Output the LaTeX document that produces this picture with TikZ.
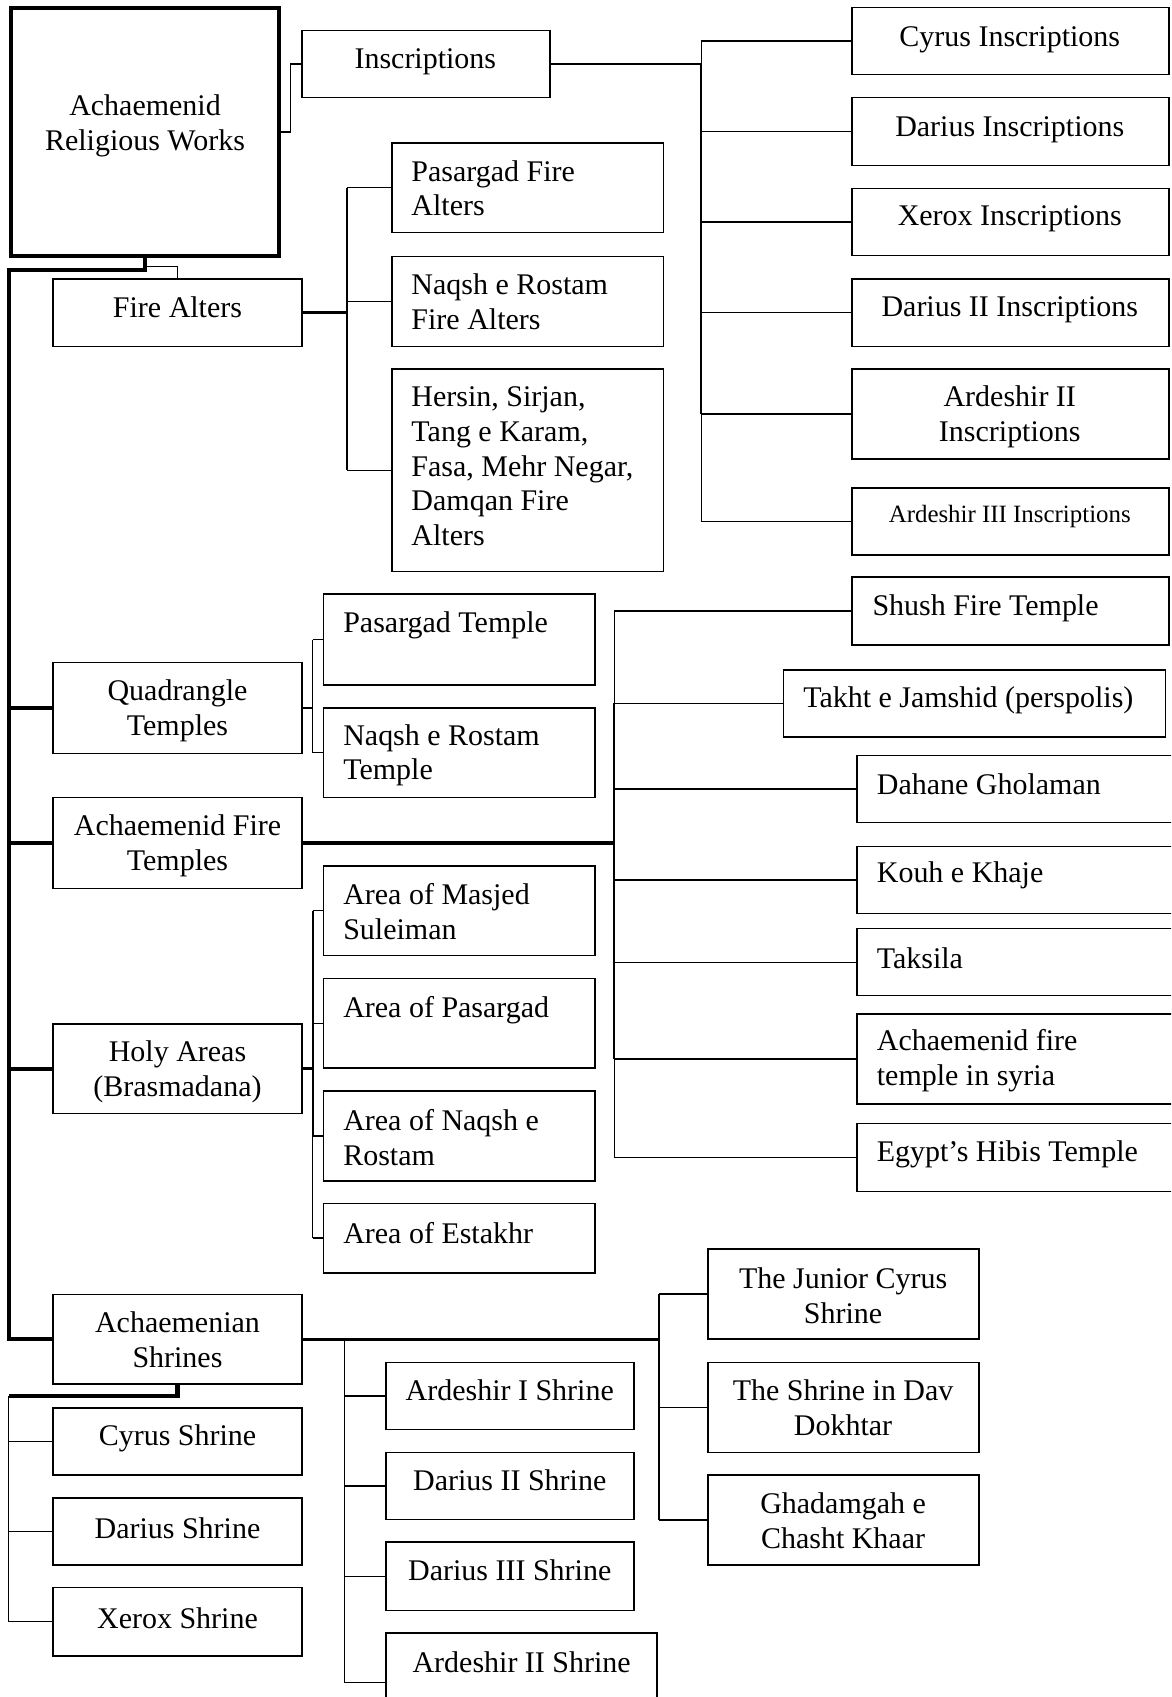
\documentclass[tikz,border=0pt]{standalone}
\usepackage{fontspec}
\setmainfont{Liberation Serif}
\usetikzlibrary{calc}
\tikzset{
  bx/.style={draw, line width=1.4pt, rectangle, inner sep=0pt},
  tx/.style={inner sep=0pt, align=center, yshift=2pt, font=\fontsize{27.7}{32}\selectfont},
  tl/.style={tx, align=left, anchor=west},
  thn/.style={line width=1.2pt},
  med/.style={line width=2.4pt},
  thk/.style={line width=3.8pt},
}
\newcommand\mybox[5]{\node[bx, minimum width={(#4)-(#2)}, minimum height={(#5)-(#3)}] (#1) at ({((#2)+(#4))/2},{((#3)+(#5))/2}) {};}
\begin{document}
\begin{tikzpicture}[x=1pt,y=-1pt]
\useasboundingbox (0,0) rectangle (1082,1568);
\fill[white] (0,0) rectangle (1082,1568);
\clip (0,0) rectangle (1082,1568);

% ---------- boxes ----------
\node[bx, line width=3.8pt, minimum width=247pt, minimum height=228.8pt] (root) at (134,122.1) {};
\mybox{inscr}{279}{28}{508}{90}
\mybox{cyrI}{787}{7}{1080}{69}
\mybox{darI}{787}{90}{1080}{153}
\mybox{xerI}{787}{174}{1080}{236}
\mybox{dartwoI}{787}{258}{1080}{320}
\mybox{ardtwoI}{787}{341}{1080}{424}
\mybox{ardthreeI}{787}{451}{1080}{513}

\mybox{fire}{49}{258}{279}{320}
\mybox{pasF}{362}{132}{613}{215}
\mybox{naqF}{362}{237}{613}{320}
\mybox{hers}{362}{341}{613}{528}

\mybox{quad}{49}{612}{279}{696}
\mybox{pasT}{299}{549}{550}{633}
\mybox{naqT}{299}{654}{550}{737}

\mybox{aft}{49}{737}{279}{821}
\mybox{shush}{787}{533}{1080}{596}
\mybox{takht}{724}{619}{1077}{681}
\mybox{dah}{792}{698}{1100}{760}
\mybox{kouh}{792}{782}{1100}{844}
\mybox{tak}{792}{858}{1100}{920}
\mybox{syr}{792}{937}{1100}{1020}
\mybox{egy}{792}{1038}{1100}{1101}

\mybox{holy}{49}{946}{279}{1029}
\mybox{masj}{299}{800}{550}{883}
\mybox{apas}{299}{904}{550}{987}
\mybox{anaq}{299}{1008}{550}{1091}
\mybox{est}{299}{1112}{550}{1176}

\mybox{shr}{49}{1196}{279}{1279}
\mybox{cyS}{49}{1301}{279}{1363}
\mybox{daS}{49}{1384}{279}{1446}
\mybox{xeS}{49}{1467}{279}{1530}
\mybox{arone}{356.5}{1259}{586}{1321}
\mybox{datwo}{356.5}{1342}{586}{1404}
\mybox{dathree}{356.5}{1425}{586}{1488}
\mybox{artwo}{356.5}{1509}{607}{1600}
\mybox{jcS}{654}{1154}{904.5}{1237}
\mybox{davS}{654}{1259}{904.5}{1342}
\mybox{ghS}{654}{1363}{904.5}{1446}

% ---------- texts ----------
\node[tx] (t-root) at (134,118.5) {Achaemenid\\Religious Works};
\node[tx] (t-inscr) at (393,59.5) {Inscriptions};
\node[tx] (t-cyrI) at (933,38.5) {Cyrus Inscriptions};
\node[tx] (t-darI) at (933,121.5) {Darius Inscriptions};
\node[tx] (t-xerI) at (933,204.5) {Xerox Inscriptions};
\node[tx] (t-dartwoI) at (933,288.5) {Darius II Inscriptions};
\node[tx] (t-ardtwoI) at (933,387) {Ardeshir II\\Inscriptions};
\node[tx, font=\fontsize{23}{27}\selectfont] (t-ardthreeI) at (933,479) {Ardeshir III Inscriptions};

\node[tx] (t-fire) at (164,286) {Fire Alters};
\node[tl] (t-pasF) at (380,176) {Pasargad Fire\\Alters};
\node[tl] (t-naqF) at (380,281) {Naqsh e Rostam\\Fire Alters};
\node[tl] (t-hers) at (380,433) {Hersin, Sirjan,\\Tang e Karam,\\Fasa, Mehr Negar,\\Damqan Fire\\Alters};

\node[tx] (t-quad) at (164,658.5) {Quadrangle\\Temples};
\node[tl] (t-pasT) at (317,580) {Pasargad Temple};
\node[tl] (t-naqT) at (317,700) {Naqsh e Rostam\\Temple};

\node[tx] (t-aft) at (164,783.5) {Achaemenid Fire\\Temples};
\node[tl] (t-shush) at (806,564) {Shush Fire Temple};
\node[tl] (t-takht) at (742,649) {Takht e Jamshid (perspolis)};
\node[tl] (t-dah) at (810,727) {Dahane Gholaman};
\node[tl] (t-kouh) at (810,811) {Kouh e Khaje};
\node[tl] (t-tak) at (810,887) {Taksila};
\node[tl] (t-syr) at (810,982) {Achaemenid fire\\temple in syria};
\node[tl] (t-egy) at (810,1069) {Egypt’s Hibis Temple};

\node[tx] (t-holy) at (164,992.5) {Holy Areas\\(Brasmadana)};
\node[tl] (t-masj) at (317,844) {Area of Masjed\\Suleiman};
\node[tl] (t-apas) at (317,935) {Area of Pasargad};
\node[tl] (t-anaq) at (317,1053) {Area of Naqsh e\\Rostam};
\node[tl] (t-est) at (317,1141) {Area of Estakhr};

\node[tx] (t-shr) at (164,1240) {Achaemenian\\Shrines};
\node[tx] (t-cyS) at (164,1331) {Cyrus Shrine};
\node[tx] (t-daS) at (164,1414) {Darius Shrine};
\node[tx] (t-xeS) at (164,1497) {Xerox Shrine};
\node[tx] (t-arone) at (471,1287) {Ardeshir I Shrine};
\node[tx] (t-datwo) at (471,1370) {Darius II Shrine};
\node[tx] (t-dathree) at (471,1453) {Darius III Shrine};
\node[tx] (t-artwo) at (482,1538) {Ardeshir II Shrine};
\node[tx] (t-jcS) at (779,1199) {The Junior Cyrus\\Shrine};
\node[tx] (t-davS) at (779,1303) {The Shrine in Dav\\Dokhtar};
\node[tx] (t-ghS) at (779,1407) {Ghadamgah e\\Chasht Khaar};

% ---------- bar coordinates ----------
\coordinate (kin) at (268.5,0);
\coordinate (ibar) at (648,0);
\coordinate (fbar) at (320.5,0);
\coordinate (qbar) at (289,0);
\coordinate (tbar) at (567.5,0);
\coordinate (hbar) at (289,0);
\coordinate (sbarL) at (318,0);
\coordinate (sbarR) at (609,0);
\coordinate (trunk) at (8.5,0);
\coordinate (lbar) at (8,0);

% ---------- connectors ----------
% root -> Inscriptions
\draw[thn] (root.east) -| (kin |- inscr.west) -- (inscr.west);
\draw[med] (inscr.east) -- (ibar |- inscr.east);
\draw[thn] (ibar |- cyrI.west) -- (ibar |- ardthreeI.west);
\draw[line width=2pt] (ibar |- inscr.east) -- (ibar |- ardtwoI.west);
\foreach \n in {cyrI,darI,xerI,dartwoI,ardtwoI,ardthreeI}
  \draw[thn] (ibar |- \n.west) -- (\n.west);

% root -> Fire Alters (thin) and main trunk (thick)
\draw[thn] ($(root.south)+(0,8)$) -| (fire.north);
\draw[thk] (root.south) -- ++(0,11) coordinate (rj) -| (trunk |- shr.west) -- (shr.west);
\foreach \n in {quad,aft,holy}
  \draw[thk] (trunk |- \n.west) -- (\n.west);

% Fire Alters children
\draw[med] (fire.east) -- (fbar |- fire.east);
\draw[thn] (fbar |- pasF.west) -- (fbar |- hers.west);
\foreach \n in {pasF,naqF,hers}
  \draw[thn] (fbar |- \n.west) -- (\n.west);

% Quadrangle temples children
\draw[med] (quad.east) -- (qbar |- quad.east);
\draw[thn] (qbar |- pasT.west) -- (qbar |- naqT.west);
\foreach \n in {pasT,naqT}
  \draw[thn] (qbar |- \n.west) -- (\n.west);

% Achaemenid fire temples children
\draw[line width=3.2pt] (aft.east) -- (tbar |- aft.east);
\draw[thn] (tbar |- shush.west) -- (tbar |- egy.west);
\draw[line width=2pt] (tbar |- takht.west) -- (tbar |- syr.west);
\foreach \n in {shush,takht,dah,kouh,tak,syr,egy}
  \draw[thn] (tbar |- \n.west) -- (\n.west);

% Holy areas children
\draw[med] (holy.east) -- (hbar |- holy.east);
\draw[thn] (hbar |- masj.west) -- (hbar |- est.west);
\draw[line width=1.8pt] (hbar |- masj.west) -- (hbar |- anaq.west);
\foreach \n in {masj,apas,anaq,est}
  \draw[thn] (hbar |- \n.west) -- (\n.west);

% Achaemenian shrines children
\draw[med] (shr.east) -- (sbarR |- shr.east);
\draw[thn] (sbarL |- shr.east) -- (sbarL |- artwo.west);
\foreach \n in {arone,datwo,dathree,artwo}
  \draw[thn] (sbarL |- \n.west) -- (\n.west);
\draw[thn] (sbarR |- jcS.west) -- (sbarR |- ghS.west);
\draw[line width=2pt] (sbarR |- shr.east) -- (sbarR |- davS.west);
\foreach \n in {jcS,davS,ghS}
  \draw[thn] (sbarR |- \n.west) -- (\n.west);

% lower left shrines
\draw[thk] (shr.south) -- ++(0,10) coordinate (sj) -- (lbar |- sj);
\draw[thn] (lbar |- sj) -- (lbar |- xeS.west);
\foreach \n in {cyS,daS,xeS}
  \draw[thn] (lbar |- \n.west) -- (\n.west);
\end{tikzpicture}
\end{document}
